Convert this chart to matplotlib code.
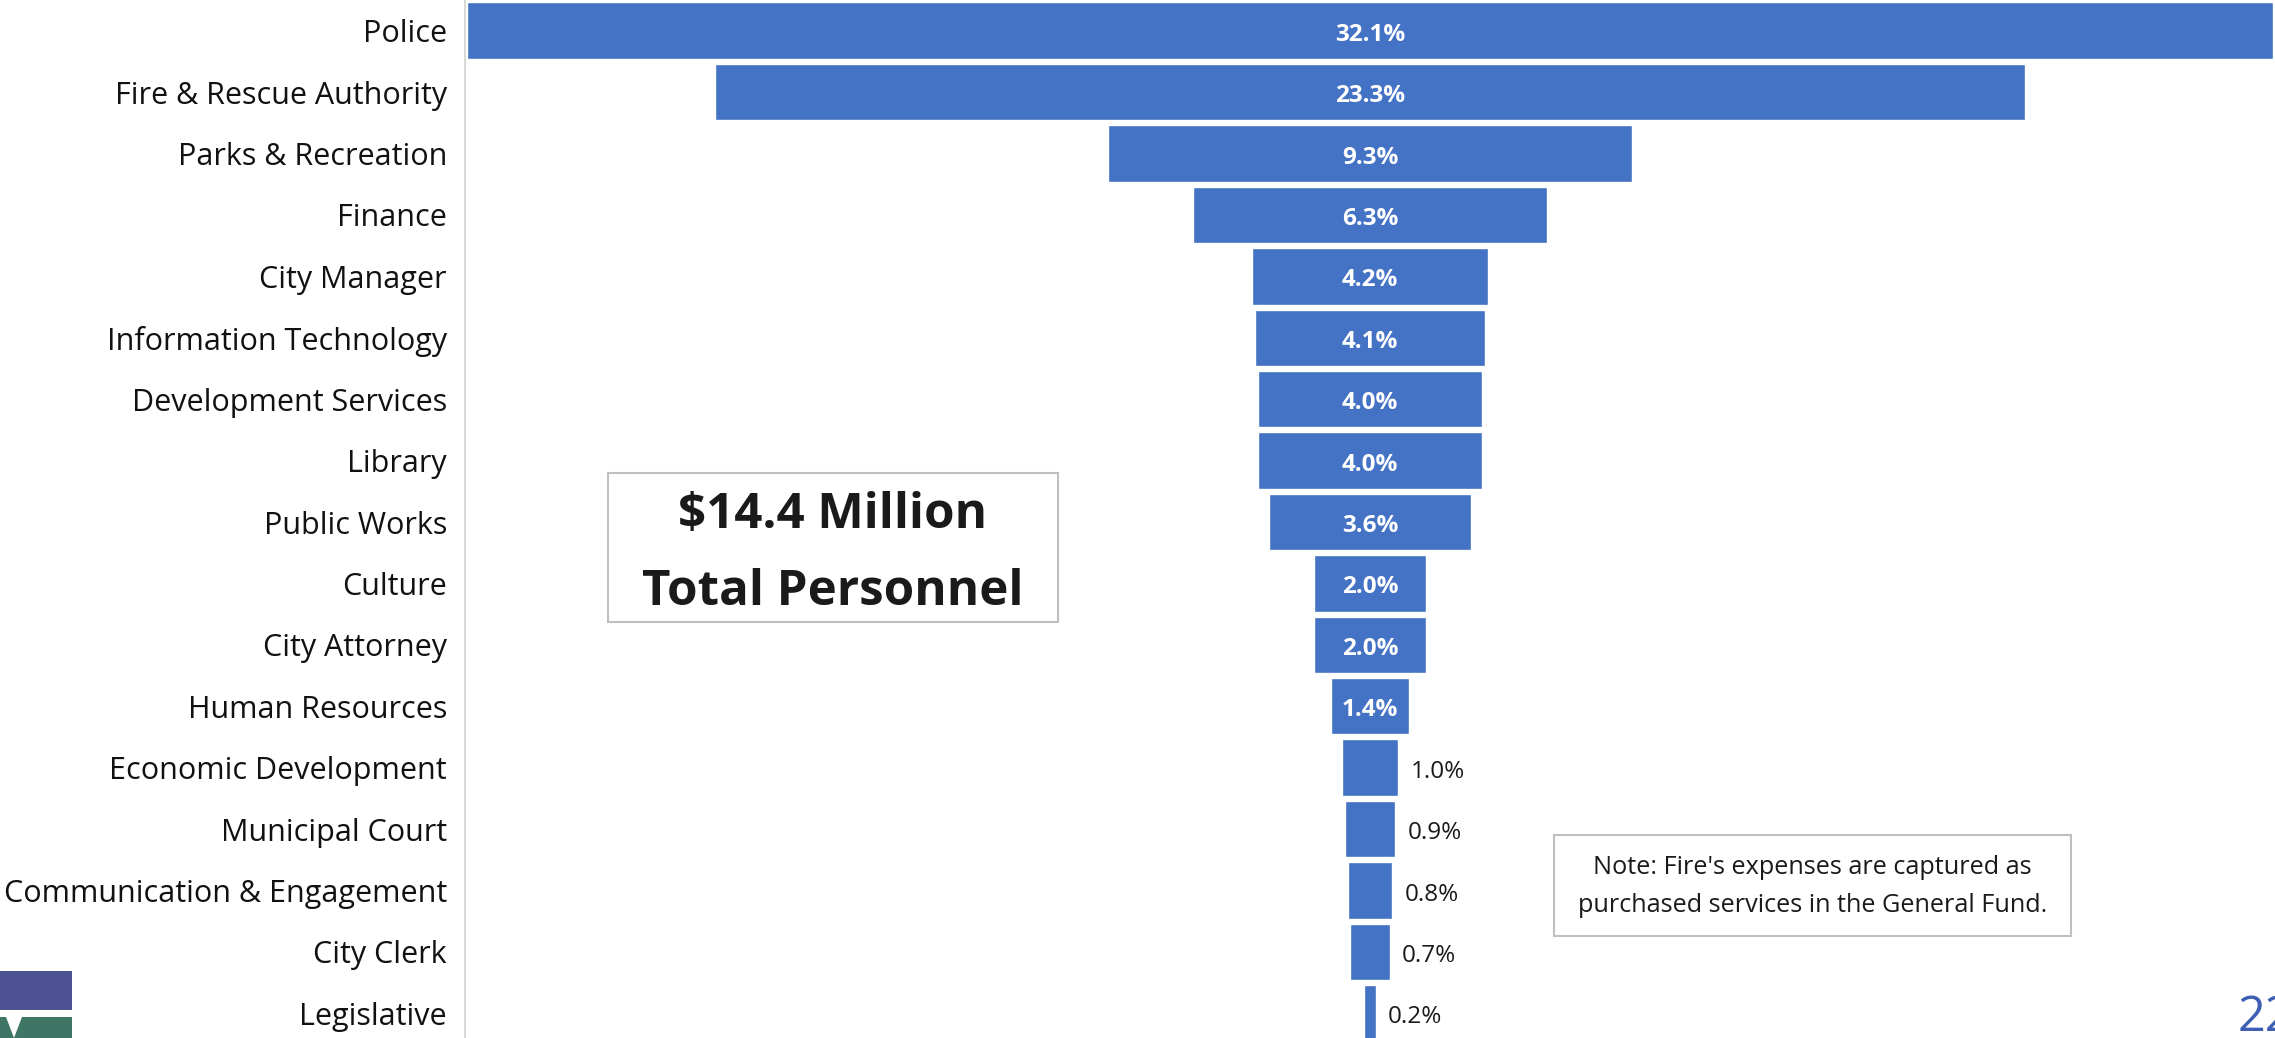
import matplotlib
matplotlib.use("Agg")
import matplotlib.pyplot as plt
from matplotlib.patches import Rectangle, Polygon
import numpy as np

categories = ["Police", "Fire & Rescue Authority", "Parks & Recreation", "Finance",
              "City Manager", "Information Technology", "Development Services", "Library",
              "Public Works", "Culture", "City Attorney", "Human Resources",
              "Economic Development", "Municipal Court", "Communication & Engagement",
              "City Clerk", "Legislative"]
values = [32.1, 23.3, 9.3, 6.3, 4.2, 4.1, 4.0, 4.0, 3.6, 2.0, 2.0, 1.4, 1.0, 0.9, 0.8, 0.7, 0.2]
labels = ["32.1%", "23.3%", "9.3%", "6.3%", "4.2%", "4.1%", "4.0%", "4.0%", "3.6%",
          "2.0%", "2.0%", "1.4%", "1.0%", "0.9%", "0.8%", "0.7%", "0.2%"]
inside_threshold = 1.4

plt.rcParams['font.family'] = ['Open Sans', 'DejaVu Sans']
CAP = 0.714  # cap height ratio of Open Sans

W, H = 2275, 1038
fig = plt.figure(figsize=(W / 100, H / 100), dpi=100)
ax_h = 1044
ax = fig.add_axes([465 / W, (H - ax_h) / H, 1 - 465 / W, ax_h / H])

vals = np.array(values)
y = np.arange(len(categories))
bar_color = "#4472C4"
ax.barh(y, vals, left=-vals / 2, height=0.92, color=bar_color,
        edgecolor="white", linewidth=1.0, zorder=2)

half = max(values) / 2 + 0.04
ax.set_xlim(-half, half)
ax.set_ylim(len(categories) - 0.5, -0.5)

ax.set_yticks(y)
ax.set_yticklabels(categories, fontsize=22, color="#111111")
ax.tick_params(axis="y", length=0, pad=13)
ax.set_xticks([])
for s in ["top", "right", "bottom"]:
    ax.spines[s].set_visible(False)
ax.spines["left"].set_color("#d9d9d9")
ax.spines["left"].set_linewidth(1.5)

fs_in, fs_out = 17.5, 17.5
for yi, v, lab in zip(y, vals, labels):
    if v >= inside_threshold:
        ax.annotate(lab, xy=(0, yi), xytext=(0, -CAP * fs_in / 2 - 1), textcoords="offset points",
                    ha="center", va="baseline", color="white",
                    fontsize=fs_in, fontweight="bold", zorder=3)
    else:
        ax.annotate(lab, xy=(v / 2, yi), xytext=(9, -CAP * fs_out / 2 - 1), textcoords="offset points",
                    ha="left", va="baseline", color="#1a1a1a", fontsize=fs_out, zorder=3)

# Total text box
bx0, by0, bx1, by1 = 608, 473, 1058, 622
fig.patches.append(Rectangle((bx0 / W, 1 - by1 / H), (bx1 - bx0) / W, (by1 - by0) / H,
                             transform=fig.transFigure, facecolor="white",
                             edgecolor="#bfbfbf", linewidth=1.5, zorder=5))
fig.text((bx0 + bx1) / 2 / W, 1 - 528 / H, "$14.4 Million", ha="center", va="baseline",
         fontsize=35.5, fontweight="bold", color="#1a1a1a", zorder=6)
fig.text((bx0 + bx1) / 2 / W, 1 - 605 / H, "Total Personnel", ha="center", va="baseline",
         fontsize=35.5, fontweight="bold", color="#1a1a1a", zorder=6)

# Note box
nx0, ny0, nx1, ny1 = 1554, 835, 2071, 936
fig.patches.append(Rectangle((nx0 / W, 1 - ny1 / H), (nx1 - nx0) / W, (ny1 - ny0) / H,
                             transform=fig.transFigure, facecolor="white",
                             edgecolor="#bfbfbf", linewidth=1.5, zorder=5))
fig.text((nx0 + nx1) / 2 / W, 1 - 874 / H, "Note: Fire's expenses are captured as",
         ha="center", va="baseline", fontsize=18.2, color="#1a1a1a", zorder=6)
fig.text((nx0 + nx1) / 2 / W, 1 - 912 / H, "purchased services in the General Fund.",
         ha="center", va="baseline", fontsize=18.2, color="#1a1a1a", zorder=6)

# Logo (bottom left)
purple = "#4b5191"
green = "#3e7565"
fig.patches.append(Rectangle((0, 1 - 1010 / H), 72 / W, (1010 - 971) / H,
                             transform=fig.transFigure, facecolor=purple, edgecolor="none", zorder=5))
fig.patches.append(Rectangle((0, 0), 72 / W, (1038 - 1017) / H,
                             transform=fig.transFigure, facecolor=green, edgecolor="none", zorder=5))
fig.patches.append(Polygon([(0 / W, 1 - 1010 / H), (6 / W, 1 - 1017 / H), (14 / W, 1 - 1038 / H),
                            (22 / W, 1 - 1017 / H), (28 / W, 1 - 1010 / H)], closed=True,
                           transform=fig.transFigure, facecolor="white", edgecolor="none", zorder=6))

# Page number
fig.text(2238 / W, 1 - 1031 / H, "22", ha="left", va="baseline", fontsize=35,
         color="#3f5fb5", zorder=6)

fig.savefig("out.png", dpi=100)
